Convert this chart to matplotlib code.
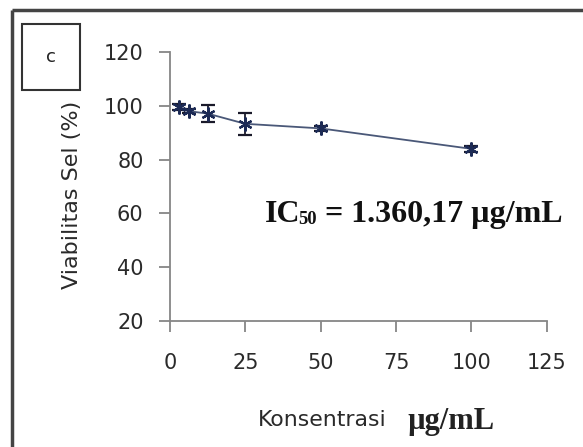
import matplotlib
matplotlib.use('Agg')
import matplotlib.pyplot as plt
from matplotlib.lines import Line2D
from matplotlib.patches import Rectangle

conc = [3.125, 6.25, 12.5, 25, 50, 100]
viab = [99.5, 98.0, 97.1, 93.3, 91.6, 84.0]
err = [1.0, 0.8, 3.2, 4.2, 1.0, 1.2]
xticks = [0, 25, 50, 75, 100, 125]
yticks = [20, 40, 60, 80, 100, 120]

W, H = 583, 447
fig = plt.figure(figsize=(W / 100, H / 100), dpi=100)
fig.patch.set_facecolor('white')

def fx(px):
    return px / W

def fy(py):
    return (H - py) / H

ax = fig.add_axes([fx(170), fy(321), fx(546.7) - fx(170), fy(52) - fy(321)])
ax.errorbar(conc, viab, yerr=err, color='#4a5878', lw=1.3, marker=(6, 2, 0), ms=10,
            mec='#1c2a55', mfc='#1c2a55', mew=1.6, ecolor='#1a1a2a',
            elinewidth=1.3, capsize=5, capthick=1.3, zorder=3)
ax.set_xlim(0, 125)
ax.set_ylim(20, 120)
ax.set_xticks(xticks)
ax.set_yticks(yticks)
ax.set_xticklabels([str(v) for v in xticks])
ax.set_yticklabels([str(v) for v in yticks])
for s in ['top', 'right']:
    ax.spines[s].set_visible(False)
for s in ['left', 'bottom']:
    ax.spines[s].set_color('#868686')
    ax.spines[s].set_linewidth(1.3)
ax.tick_params(direction='out', length=8, width=1.3, color='#868686',
               labelsize=15, labelcolor='#2a2a2a')
ax.tick_params(axis='x', pad=15)
ax.tick_params(axis='y', pad=11)

# y label
fig.text(fx(72), fy(195), 'Viabilitas Sel (%)', fontsize=16, color='#2a2a2a',
         rotation=90, ha='center', va='center')

# x label: sans part + bold serif part
fig.text(fx(258), fy(418), 'Konsentrasi', fontsize=15.8, color='#2a2a2a',
         ha='left', va='center_baseline')
fig.text(fx(407), fy(418), 'µg/mL', fontsize=22, fontweight='bold',
         family='Liberation Serif', color='#222222', ha='left', va='center_baseline')

# IC50 annotation
serif = dict(family='Liberation Serif', fontweight='bold', color='#111111')
t1 = fig.text(fx(265), fy(222), 'IC', fontsize=23, ha='left', va='baseline', **serif)
fig.canvas.draw()
r = fig.canvas.get_renderer()
bb1 = t1.get_window_extent(r)
t2 = fig.text((bb1.x1 - 2) / W, fy(223.5), '50', fontsize=13.3, ha='left',
              va='baseline', **serif)
fig.canvas.draw()
bb2 = t2.get_window_extent(r)
fig.text(bb2.x1 / W, fy(222), ' = 1.360,17 µg/mL', fontsize=23, ha='left',
         va='baseline', **serif)

# outer frame
fig.add_artist(Line2D([fx(12), fx(583)], [fy(10), fy(10)], transform=fig.transFigure,
                      color='#444444', lw=2.5, solid_capstyle='butt'))
fig.add_artist(Line2D([fx(12), fx(12)], [fy(10), fy(447)], transform=fig.transFigure,
                      color='#444444', lw=2.5, solid_capstyle='butt'))
# 'c' box
fig.add_artist(Rectangle((fx(22), fy(90)), fx(80) - fx(22), fy(24) - fy(90),
                         transform=fig.transFigure, fill=False, ec='#333333', lw=1.5))
fig.text(fx(51), fy(57), 'c', fontsize=13, ha='center', va='center', color='#222222')

fig.savefig('out.png', dpi=100)
